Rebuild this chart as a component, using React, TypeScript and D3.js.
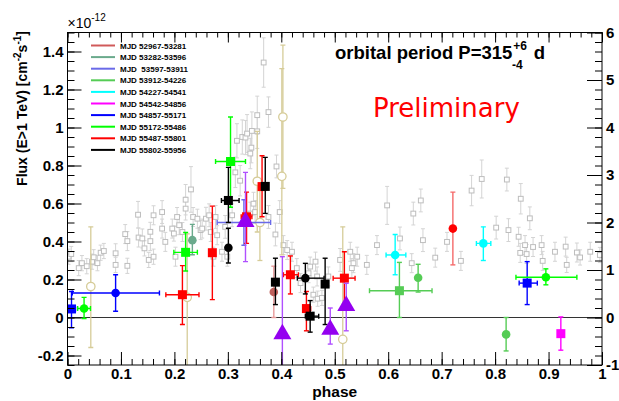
import { useEffect, useRef } from 'react';
import * as d3 from 'd3';

const W = 619;
const H = 401;
const L = 67.5, R = 602, T = 32.5, B = 365;

// legend (MJD ranges) and their colours
const legendLabels = [
  'MJD 52967-53281', 'MJD 53282-53596', 'MJD  53597-53911', 'MJD 53912-54226', 'MJD 54227-54541',
  'MJD 54542-54856', 'MJD 54857-55171', 'MJD 55172-55486', 'MJD 55487-55801', 'MJD 55802-55956',
];
const legendColors = ['#d05a5a', '#6aaa8c', '#6a6ae8', '#55cc55', '#00ffff', '#ff00ff', '#0000ff', '#00ff00', '#ff0000', '#000000'];

// [phase, flux, xLo, xHi, yLo, yHi]  (flux in 1e-12 cm-2 s-1)
type P = [number, number, number | null, number | null, number, number];
const mjd1Circles: P[] = [[0.386, 0.134, null, null, 0.0, 0.27]];
const mjd2Circles: P[] = [[0.2336, 0.407, null, null, 0.33, 0.49]];
const mjd3Circles: P[] = [[0.33, 0.5, 0.28, 0.38, 0.38, 0.62]];
const mjd4Squares: P[] = [[0.621, 0.141, 0.565, 0.682, 0.0, 0.29]];
const mjd4Circles: P[] = [[0.656, 0.209, null, null, 0.134, 0.28], [0.8206, -0.089, null, null, -0.176, 0.0]];
const mjd5Circles: P[] = [[0.613, 0.329, 0.596, 0.633, 0.225, 0.437], [0.778, 0.39, 0.765, 0.792, 0.3, 0.477]];
const mjd6Squares: P[] = [[0.923, -0.085, null, null, -0.172, 0.003]];
const mjd7Squares: P[] = [[0.0075, 0.045, 0.0, 0.015, -0.054, 0.137], [0.86, 0.181, 0.845, 0.879, 0.068, 0.294]];
const mjd7Circles: P[] = [[0.09, 0.129, 0.009, 0.172, 0.033, 0.225]];
const mjd8Squares: P[] = [[0.221, 0.343, 0.199, 0.243, 0.245, 0.447], [0.305, 0.821, 0.277, 0.333, 0.58, 1.055]];
const mjd8Circles: P[] = [[0.031, 0.047, 0.019, 0.043, -0.005, 0.106], [0.895, 0.212, 0.839, 0.953, 0.172, 0.256]];
const mjd9Squares: P[] = [
  [0.215, 0.12, 0.184, 0.246, -0.037, 0.273], [0.271, 0.341, null, null, 0.094, 0.586],
  [0.335, 0.53, 0.325, 0.345, 0.39, 0.66], [0.364, 0.689, null, null, 0.53, 0.851],
  [0.417, 0.225, 0.404, 0.432, 0.124, 0.324], [0.447, 0.047, 0.44, 0.455, -0.07, 0.137],
  [0.518, 0.207, 0.497, 0.538, 0.07, 0.346],
];
const mjd9Circles: P[] = [[0.721, 0.468, null, null, 0.277, 0.66]];
const mjd10Squares: P[] = [
  [0.301, 0.616, 0.288, 0.321, 0.5, 0.79], [0.37, 0.69, null, null, 0.548, 0.843],
  [0.389, 0.186, null, null, 0.068, 0.312], [0.482, 0.176, null, null, -0.037, 0.312],
  [0.454, 0.007, 0.445, 0.47, -0.077, 0.089],
];
const mjd10Circles: P[] = [[0.301, 0.367, null, null, 0.287, 0.47], [0.445, 0.207, 0.43, 0.48, 0.124, 0.285]];

// other data sets: [phase, flux, yLo, yHi]
const trianglePoints = [
  [0.333, 0.51, 0.294, 0.764], [0.402, -0.08, -0.5, 0.32], [0.4916, -0.057, -0.14, 0.05], [0.5215, 0.068, -0.07, 0.18],
];
const openCirclePoints = [
  [0.0436, 0.163, -0.158, 0.477], [0.224, 0.106, -0.3, 0.44], [0.355, 0.717, 0.45, 0.98], [0.36, 0.5, 0.3, 0.7],
  [0.403, 1.055, 0.68, 1.434], [0.401, 0.743, 0.33, 1.31], [0.515, -0.115, -0.35, 0.477],
];
// [phase, flux, err]
const greyPoints = [
  [0.002, 0.32, 0.04], [0.007, 0.334, 0.04], [0.021, 0.26, 0.04], [0.027, 0.286, 0.04], [0.036, 0.27, 0.04],
  [0.046, 0.294, 0.04], [0.049, 0.317, 0.04], [0.056, 0.286, 0.04], [0.062, 0.341, 0.04], [0.068, 0.35, 0.04],
  [0.09, 0.338, 0.05], [0.09, 0.277, 0.04], [0.108, 0.439, 0.05], [0.112, 0.402, 0.05], [0.112, 0.272, 0.04],
  [0.132, 0.541, 0.07], [0.133, 0.421, 0.05], [0.14, 0.416, 0.05], [0.144, 0.364, 0.04], [0.152, 0.303, 0.04],
  [0.155, 0.451, 0.05], [0.155, 0.402, 0.05], [0.161, 0.32, 0.04], [0.161, 0.538, 0.05], [0.177, 0.555, 0.06],
  [0.177, 0.468, 0.05], [0.183, 0.398, 0.05], [0.196, 0.468, 0.05], [0.199, 0.442, 0.04], [0.202, 0.32, 0.05],
  [0.205, 0.529, 0.05], [0.209, 0.486, 0.05], [0.215, 0.45, 0.05], [0.221, 0.62, 0.08], [0.221, 0.573, 0.06],
  [0.231, 0.674, 0.12], [0.235, 0.529, 0.05], [0.243, 0.52, 0.05], [0.249, 0.46, 0.05], [0.252, 0.468, 0.05],
  [0.259, 0.52, 0.06], [0.265, 0.538, 0.06], [0.268, 0.45, 0.05], [0.273, 0.32, 0.05], [0.277, 0.529, 0.06],
  [0.28, 0.433, 0.05], [0.289, 0.346, 0.05], [0.295, 0.477, 0.06], [0.299, 0.32, 0.05], [0.308, 0.538, 0.06],
  [0.314, 0.764, 0.08], [0.317, 0.93, 0.09], [0.323, 0.72, 0.08], [0.327, 0.95, 0.09], [0.333, 0.947, 0.09],
  [0.336, 0.968, 0.1], [0.342, 0.863, 0.08], [0.342, 0.547, 0.06], [0.344, 0.894, 0.08], [0.345, 0.982, 0.1],
  [0.348, 0.599, 0.06], [0.351, 0.555, 0.06], [0.355, 1.065, 0.1], [0.355, 0.98, 0.09], [0.367, 1.342, 0.13],
  [0.376, 1.081, 0.08], [0.376, 0.529, 0.06], [0.389, 0.437, 0.06], [0.391, 0.795, 0.06], [0.397, 0.555, 0.06],
  [0.404, 0.381, 0.05], [0.411, 0.355, 0.05], [0.42, 0.346, 0.05], [0.429, 0.26, 0.05], [0.436, 0.181, 0.05],
  [0.451, 0.233, 0.05], [0.454, 0.268, 0.05], [0.46, 0.12, 0.04], [0.464, 0.294, 0.05], [0.467, 0.216, 0.05],
  [0.468, 0.099, 0.04], [0.476, 0.103, 0.04], [0.488, 0.216, 0.05], [0.51, 0.303, 0.06], [0.529, 0.346, 0.05],
  [0.532, 0.26, 0.05], [0.535, 0.286, 0.05], [0.542, 0.32, 0.05], [0.56, 0.277, 0.05], [0.579, 0.381, 0.05],
  [0.598, 0.59, 0.1], [0.622, 0.416, 0.06], [0.644, 0.286, 0.05], [0.647, 0.547, 0.06], [0.661, 0.616, 0.06],
  [0.665, 0.407, 0.06], [0.688, 0.315, 0.05], [0.71, 0.398, 0.05], [0.736, 0.298, 0.05], [0.756, 0.668, 0.08],
  [0.775, 0.729, 0.1], [0.802, 0.473, 0.06], [0.822, 0.726, 0.06], [0.825, 0.46, 0.06], [0.844, 0.425, 0.05],
  [0.847, 0.34, 0.05], [0.848, 0.625, 0.08], [0.856, 0.381, 0.05], [0.859, 0.334, 0.05], [0.865, 0.522, 0.06],
  [0.871, 0.371, 0.05], [0.887, 0.381, 0.05], [0.889, 0.298, 0.05], [0.912, 0.346, 0.05], [0.932, 0.373, 0.05],
  [0.934, 0.277, 0.04], [0.953, 0.342, 0.05], [0.959, 0.316, 0.04], [0.978, 0.346, 0.05], [0.996, 0.329, 0.04],
];

const xTicks = d3.range(0, 11).map(i => i / 10);
const yTicks = d3.range(-1, 8).map(i => i / 5);
const yRightTicks = d3.range(-1, 7);

const FONT = '"Liberation Sans", Arial, Helvetica, sans-serif';

function App() {
  const svgRef = useRef<SVGSVGElement>(null);

  useEffect(() => {
    const svg = d3.select(svgRef.current);
    svg.selectAll('*').remove();

    const x = d3.scaleLinear().domain([0, 1]).range([L, R]);
    const y = d3.scaleLinear().domain([-0.25, 1.5]).range([B, T]);
    const yR = d3.scaleLinear().domain([-1, 6]).range([B, T]);
    const fmt = (d: any) => String(Math.round(d * 10) / 10);

    svg.append('defs').append('clipPath').attr('id', 'plotclip')
      .append('rect').attr('x', L).attr('y', T).attr('width', R - L).attr('height', B - T);

    // zero line
    svg.append('line').attr('x1', L).attr('x2', R).attr('y1', y(0)).attr('y2', y(0))
      .attr('stroke', '#333').attr('stroke-width', 1);

    const data = svg.append('g').attr('clip-path', 'url(#plotclip)');

    const errorBars = (pts: any[], color: string, w: number, cap: number) => {
      const g = data.append('g').attr('stroke', color).attr('stroke-width', w).attr('fill', 'none');
      pts.forEach(([p, f, xl, xh, yl, yh]) => {
        const cx = x(p), cy = y(f);
        g.append('line').attr('x1', cx).attr('x2', cx).attr('y1', y(yl)).attr('y2', y(yh));
        [yl, yh].forEach(v => g.append('line').attr('x1', cx - cap).attr('x2', cx + cap).attr('y1', y(v)).attr('y2', y(v)));
        if (xl != null) {
          g.append('line').attr('x1', x(xl)).attr('x2', x(xh)).attr('y1', cy).attr('y2', cy);
          [xl, xh].forEach(v => g.append('line').attr('x1', x(v)).attr('x2', x(v)).attr('y1', cy - cap).attr('y2', cy + cap));
        }
      });
    };

    // grey background points
    errorBars(greyPoints.map(([p, f, e]) => [p, f, null, null, f - e, f + e]), '#d4d4d4', 1, 2);
    data.append('g').selectAll('rect').data(greyPoints).join('rect')
      .attr('x', d => x(d[0]) - 2.4).attr('y', d => y(d[1]) - 2.4).attr('width', 4.8).attr('height', 4.8)
      .attr('fill', '#fff').attr('stroke', '#bdbdbd').attr('stroke-width', 1);

    // open khaki circles
    errorBars(openCirclePoints.map(([p, f, lo, hi]) => [p, f, null, null, lo, hi]), '#d6cc98', 1.3, 2.5);
    data.append('g').selectAll('circle').data(openCirclePoints).join('circle')
      .attr('cx', d => x(d[0])).attr('cy', d => y(d[1])).attr('r', 4.2)
      .attr('fill', '#fff').attr('stroke', '#d6cc98').attr('stroke-width', 1.3);

    const series = [
      { sq: [], ci: mjd1Circles }, { sq: [], ci: mjd2Circles }, { sq: [], ci: mjd3Circles },
      { sq: mjd4Squares, ci: mjd4Circles }, { sq: [], ci: mjd5Circles }, { sq: mjd6Squares, ci: [] },
      { sq: mjd7Squares, ci: mjd7Circles }, { sq: mjd8Squares, ci: mjd8Circles },
      { sq: mjd9Squares, ci: mjd9Circles }, { sq: mjd10Squares, ci: mjd10Circles },
    ];
    series.forEach((s, i) => {
      const c = legendColors[i];
      errorBars(s.sq, c, 1.4, 2.5);
      errorBars(s.ci, i === 8 ? '#f46a6a' : i === 0 ? '#e89a9a' : c, 1.4, 2.5);
      data.append('g').selectAll('rect').data(s.sq).join('rect')
        .attr('x', d => x(d[0]) - 4.5).attr('y', d => y(d[1]) - 4.5).attr('width', 9).attr('height', 9)
        .attr('fill', c);
      data.append('g').selectAll('circle').data(s.ci).join('circle')
        .attr('cx', d => x(d[0])).attr('cy', d => y(d[1])).attr('r', 4.3)
        .attr('fill', i === 0 ? '#c0605c' : c);
    });

    // purple triangles
    errorBars(trianglePoints.map(([p, f, lo, hi]) => [p, f, null, null, lo, hi]), '#b050ff', 1.4, 2.5);
    data.append('g').selectAll('path').data(trianglePoints).join('path')
      .attr('d', d => {
        const cx = x(d[0]), cy = y(d[1]);
        return `M${cx},${cy - 9}L${cx + 9},${cy + 6.5}L${cx - 9},${cy + 6.5}Z`;
      })
      .attr('fill', '#9400f0');

    // axes
    const styleAxis = (g: any) => {
      g.select('.domain').remove();
      g.selectAll('line').attr('stroke', '#000');
      g.selectAll('text').attr('font-family', FONT).attr('font-weight', 'bold').attr('font-size', 15).attr('fill', '#000');
    };
    svg.append('g').attr('transform', `translate(0,${B})`)
      .call(d3.axisBottom(x).tickValues(xTicks).tickSizeInner(-13).tickSizeOuter(0).tickPadding(3).tickFormat(fmt))
      .call(styleAxis);
    svg.append('g').attr('transform', `translate(0,${B})`)
      .call(d3.axisBottom(x).tickValues(d3.range(0, 51).map(i => i / 50)).tickSizeInner(-6).tickSizeOuter(0).tickFormat(() => ''))
      .call(styleAxis);
    svg.append('g').attr('transform', `translate(0,${T})`)
      .call(d3.axisTop(x).tickValues(xTicks).tickSizeInner(-10).tickSizeOuter(0).tickFormat(() => ''))
      .call(styleAxis);
    svg.append('g').attr('transform', `translate(0,${T})`)
      .call(d3.axisTop(x).tickValues(d3.range(0, 51).map(i => i / 50)).tickSizeInner(-5).tickSizeOuter(0).tickFormat(() => ''))
      .call(styleAxis);
    svg.append('g').attr('transform', `translate(${L},0)`)
      .call(d3.axisLeft(y).tickValues(yTicks).tickSizeInner(-14).tickSizeOuter(0).tickPadding(4).tickFormat(fmt))
      .call(styleAxis);
    svg.append('g').attr('transform', `translate(${L},0)`)
      .call(d3.axisLeft(y).tickValues(d3.range(-5, 31).map(i => i / 20)).tickSizeInner(-7).tickSizeOuter(0).tickFormat(() => ''))
      .call(styleAxis);
    svg.append('g').attr('transform', `translate(${R},0)`)
      .call(d3.axisRight(yR).tickValues(yRightTicks).tickSizeInner(-15).tickSizeOuter(0).tickPadding(4).tickFormat(fmt))
      .call(styleAxis);
    svg.append('g').attr('transform', `translate(${R},0)`)
      .call(d3.axisRight(yR).tickValues(d3.range(-5, 31).map(i => i / 5)).tickSizeInner(-7).tickSizeOuter(0).tickFormat(() => ''))
      .call(styleAxis);

    // frame
    svg.append('rect').attr('x', L).attr('y', T).attr('width', R - L).attr('height', B - T)
      .attr('fill', 'none').attr('stroke', '#000').attr('stroke-width', 1);

    // axis titles
    svg.append('text').attr('x', (L + R) / 2).attr('y', 397).attr('text-anchor', 'middle')
      .attr('font-family', FONT).attr('font-weight', 'bold').attr('font-size', 15.5).text('phase');
    const yt = svg.append('text').attr('transform', 'translate(27,31) rotate(-90)').attr('text-anchor', 'end')
      .attr('font-family', FONT).attr('font-weight', 'bold').attr('font-size', 14);
    yt.append('tspan').text('Flux (E>1 TeV) [cm');
    yt.append('tspan').attr('dy', -6).attr('font-size', 10).text('-2');
    yt.append('tspan').attr('dy', 6).text('s');
    yt.append('tspan').attr('dy', -6).attr('font-size', 10).text('-1');
    yt.append('tspan').attr('dy', 6).text(']');

    const ex = svg.append('text').attr('x', L).attr('y', 28).attr('font-family', FONT).attr('font-size', 14);
    ex.append('tspan').text('×10');
    ex.append('tspan').attr('dy', -7).attr('font-size', 10).text('-12');

    // annotation
    const ann = svg.append('text').attr('x', 335).attr('y', 59).attr('font-family', FONT)
      .attr('font-weight', 'bold').attr('font-size', 18.5);
    ann.append('tspan').text('orbital period P=315');
    ann.append('tspan').attr('dx', 1).attr('dy', -9).attr('font-size', 12).text('+6');
    ann.append('tspan').attr('dx', -15).attr('dy', 19).attr('font-size', 12).text('-4');
    ann.append('tspan').attr('dx', 11).attr('dy', -10).text('d');

    svg.append('text').attr('x', 373).attr('y', 116.5).attr('font-family', '"DejaVu Sans", sans-serif')
      .attr('font-size', 26).attr('fill', '#ff0000').text('Preliminary');

    // legend
    const lg = svg.append('g');
    legendLabels.forEach((lab, i) => {
      const ly = 45.5 + i * 11.6;
      lg.append('line').attr('x1', 91).attr('x2', 115).attr('y1', ly).attr('y2', ly)
        .attr('stroke', legendColors[i]).attr('stroke-width', 2);
      lg.append('text').attr('x', 120).attr('y', ly + 3).attr('font-family', FONT).attr('font-weight', 'bold')
        .attr('font-size', 8).attr('xml:space', 'preserve').style('white-space', 'pre').text(lab);
    });
  }, []);

  return (
    <svg ref={svgRef} width={W} height={H}
      style={{ position: 'absolute', left: 0, top: 0, background: '#fff' }} />
  );
}

export default App;
